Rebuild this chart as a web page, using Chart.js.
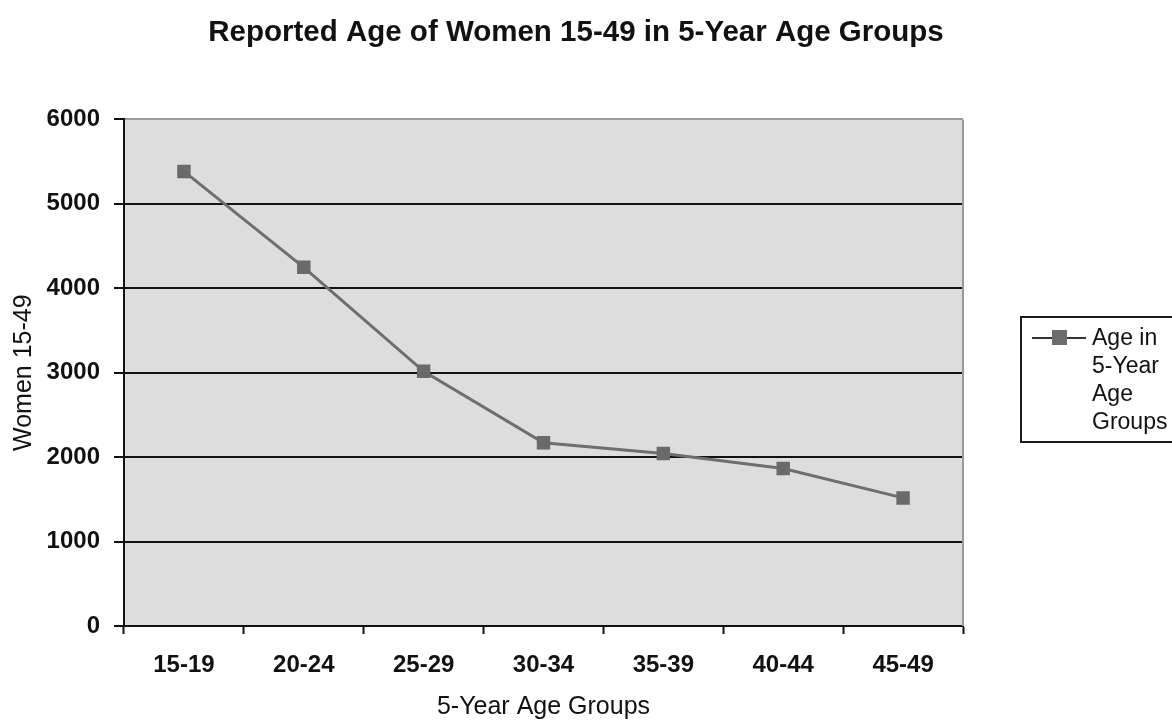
<!DOCTYPE html>
<html>
<head>
<meta charset="utf-8">
<script src="https://cdn.jsdelivr.net/npm/chart.js@4.4.1/dist/chart.umd.min.js"></script>
<style>
  html, body { margin: 0; padding: 0; background: #fff; overflow: hidden; }
  #wrap { position: relative; width: 1172px; height: 723px; }
  #legend {
    position: absolute; left: 1020px; top: 316px; width: 170px; height: 127px;
    border: 2px solid #1a1a1a; box-sizing: border-box;
    font-family: "Liberation Sans", Arial, sans-serif; font-size: 23px; color: #111;
  }
  #legend .key { position: absolute; left: 10px; top: 19px; width: 54px; height: 2px; background: #333; }
  #legend .key span { position: absolute; left: 20px; top: -7px; width: 15px; height: 15px; background: #6c6c6c; }
  #legend .txt { position: absolute; left: 70px; top: 5px; width: 80px; line-height: 28px; }
</style>
</head>
<body>
<div id="wrap">
  <canvas id="chart" width="1172" height="723"></canvas>
  <div id="legend"><div class="key"><span></span></div><div class="txt" id="legend-text"></div></div>
</div>
<script>
// --- DATA ---
const ageGroups = ['15-19', '20-24', '25-29', '30-34', '35-39', '40-44', '45-49'];
const women = [5384, 4248, 3017, 2170, 2043, 1865, 1517];
const seriesLabel = 'Age in 5-Year Age Groups';
const yTicks = [0, 1000, 2000, 3000, 4000, 5000, 6000];

const FONT = '"Liberation Sans", Arial, sans-serif';

// grey plot background + grey right border, like the old spreadsheet chart
const plotArea = {
    id: 'plotArea',
    afterLayout: (chart) => {
        // title is centred over the whole figure, not only the plot
        if (chart.titleBlock) {
            chart.titleBlock.left = 0;
            chart.titleBlock.right = 1152;
        }
    },
    beforeDraw: (chart) => {
        const { ctx, chartArea: a } = chart;
        ctx.save();
        ctx.fillStyle = '#dddddd';
        ctx.fillRect(a.left, a.top, a.right - a.left, a.bottom - a.top);
        ctx.restore();
    },
    beforeDatasetsDraw: (chart) => {
        const { ctx, chartArea: a } = chart;
        ctx.save();
        ctx.strokeStyle = '#9a9a9a';
        ctx.lineWidth = 2;
        ctx.beginPath();
        ctx.moveTo(a.right, a.top);
        ctx.lineTo(a.right, a.bottom);
        ctx.stroke();
        ctx.restore();
    }
};

document.getElementById('legend-text').textContent = seriesLabel;

new Chart(document.getElementById('chart'), {
    type: 'line',
    data: {
        labels: ageGroups,
        datasets: [{
            label: seriesLabel,
            data: women,
            borderColor: '#6e6e6e',
            borderWidth: 3,
            pointStyle: 'rect',
            pointRadius: 9.5,
            pointBackgroundColor: '#6a6a6a',
            pointBorderColor: '#6a6a6a',
            pointBorderWidth: 0,
            tension: 0
        }]
    },
    options: {
        responsive: false,
        animation: false,
        layout: { padding: { left: 0, right: 209, top: 0, bottom: 0 } },
        plugins: {
            legend: { display: false },
            tooltip: { enabled: false },
            title: {
                display: true,
                text: 'Reported Age of Women 15-49 in 5-Year Age Groups',
                color: '#111',
                font: { family: FONT, size: 29.5, weight: 'bold' },
                padding: { top: 15, bottom: 69 }
            }
        },
        scales: {
            x: {
                offset: true,
                grid: {
                    offset: true,
                    drawOnChartArea: false,
                    drawTicks: true,
                    tickLength: 8,
                    tickColor: '#111',
                    tickWidth: 2
                },
                border: { color: '#111', width: 2 },
                ticks: {
                    color: '#111',
                    padding: 17,
                    font: { family: FONT, size: 24, weight: 'bold' }
                },
                title: {
                    display: true,
                    text: '5-Year Age Groups',
                    color: '#111',
                    font: { family: FONT, size: 25 },
                    padding: { top: 0, bottom: 1 }
                },
                afterFit: (s) => { s.height = 97; }
            },
            y: {
                min: 0,
                max: 6000,
                afterBuildTicks: (s) => { s.ticks = yTicks.map(v => ({ value: v })); },
                grid: {
                    color: (c) => (c.tick && c.tick.value === 6000 ? '#9a9a9a' : '#111'),
                    lineWidth: 2,
                    tickLength: 10,
                    tickColor: '#111',
                    tickWidth: 2
                },
                border: { color: '#111', width: 2 },
                ticks: {
                    color: '#111',
                    padding: 14,
                    callback: (v) => String(v),
                    font: { family: FONT, size: 24, weight: 'bold' }
                },
                title: {
                    display: true,
                    text: 'Women 15-49',
                    color: '#111',
                    font: { family: FONT, size: 25 },
                    padding: { top: 9, bottom: 0 }
                },
                afterFit: (s) => { s.width = 124; }
            }
        }
    },
    plugins: [plotArea]
});
</script>
</body>
</html>
